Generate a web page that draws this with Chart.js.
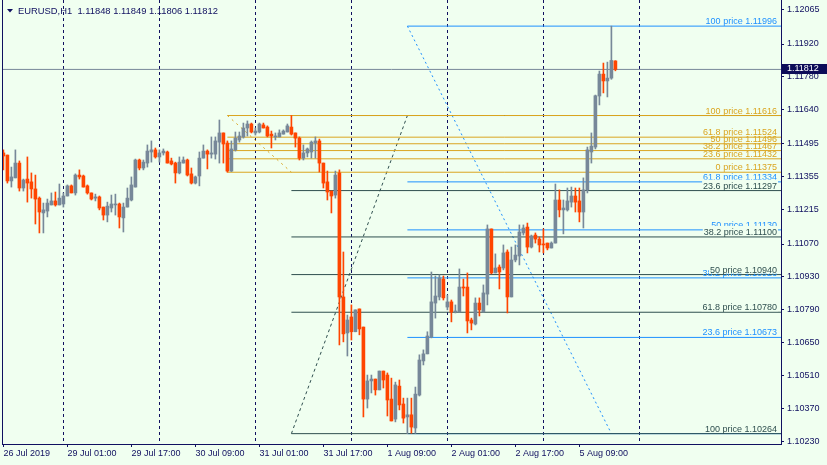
<!DOCTYPE html>
<html><head><meta charset="utf-8">
<script src="https://cdn.jsdelivr.net/npm/chart.js@4"></script>
<style>html,body{margin:0;padding:0;background:#F0FFF0;}canvas{display:block}</style>
</head><body>
<canvas id="c" width="827" height="465"></canvas>
<script>
// ---- data (EURUSD H1, bar 0 = 26 Jul 2019 09:00) ----
const chartTitle = 'EURUSD,H1  1.11848 1.11849 1.11806 1.11812';
const open = [1.11457,1.11448,1.11338,1.11351,1.11414,1.11308,1.11346,1.11334,1.11304,1.11265,1.11202,1.11210,1.11236,1.11253,1.11236,1.11240,1.11274,1.11317,1.11287,1.11363,1.11359,1.11317,1.11287,1.11265,1.11270,1.11227,1.11193,1.11223,1.11236,1.11240,1.11181,1.11227,1.11257,1.11312,1.11427,1.11393,1.11414,1.11461,1.11470,1.11440,1.11457,1.11461,1.11423,1.11414,1.11372,1.11414,1.11427,1.11368,1.11329,1.11359,1.11435,1.11465,1.11452,1.11452,1.11503,1.11542,1.11499,1.11380,1.11470,1.11512,1.11525,1.11563,1.11580,1.11542,1.11546,1.11576,1.11567,1.11537,1.11525,1.11525,1.11537,1.11546,1.11567,1.11542,1.11520,1.11435,1.11457,1.11461,1.11499,1.11508,1.11414,1.11334,1.11295,1.11278,1.11372,1.10845,1.10692,1.10760,1.10697,1.10794,1.10717,1.10411,1.10488,1.10496,1.10450,1.10530,1.10513,1.10411,1.10326,1.10466,1.10390,1.10335,1.10344,1.10288,1.10428,1.10573,1.10603,1.10675,1.10819,1.10845,1.10921,1.10802,1.10824,1.10781,1.10781,1.10887,1.10887,1.10747,1.10730,1.10819,1.10781,1.10857,1.11134,1.10947,1.10972,1.10968,1.11036,1.10845,1.11002,1.11019,1.11117,1.11142,1.11057,1.11108,1.11091,1.11070,1.11074,1.11053,1.11074,1.11257,1.11215,1.11215,1.11248,1.11274,1.11253,1.11206,1.11300,1.11461,1.11482,1.11699,1.11792,1.11763,1.11775,1.11848];
const high = [1.11470,1.11448,1.11397,1.11470,1.11423,1.11346,1.11440,1.11372,1.11363,1.11270,1.11244,1.11261,1.11287,1.11291,1.11325,1.11287,1.11321,1.11321,1.11368,1.11385,1.11363,1.11321,1.11287,1.11282,1.11274,1.11227,1.11248,1.11278,1.11282,1.11244,1.11244,1.11308,1.11355,1.11431,1.11431,1.11427,1.11491,1.11508,1.11478,1.11470,1.11474,1.11465,1.11435,1.11418,1.11440,1.11440,1.11431,1.11393,1.11359,1.11461,1.11491,1.11470,1.11525,1.11525,1.11597,1.11542,1.11508,1.11508,1.11546,1.11546,1.11584,1.11593,1.11584,1.11563,1.11584,1.11584,1.11572,1.11550,1.11542,1.11555,1.11555,1.11580,1.11616,1.11542,1.11525,1.11491,1.11478,1.11508,1.11525,1.11516,1.11414,1.11380,1.11295,1.11380,1.11385,1.11036,1.10768,1.10811,1.10790,1.10794,1.10717,1.10513,1.10513,1.10496,1.10530,1.10530,1.10522,1.10500,1.10483,1.10492,1.10415,1.10415,1.10415,1.10462,1.10599,1.10620,1.10697,1.10951,1.10934,1.10939,1.10934,1.10853,1.10832,1.10811,1.10964,1.10921,1.10947,1.10755,1.10841,1.10841,1.10896,1.11151,1.11134,1.11028,1.10981,1.11066,1.11045,1.11057,1.11066,1.11151,1.11151,1.11159,1.11108,1.11117,1.11100,1.11134,1.11074,1.11079,1.11325,1.11300,1.11257,1.11308,1.11312,1.11308,1.11308,1.11351,1.11482,1.11542,1.11703,1.11805,1.11839,1.11843,1.11996,1.11849];
const low = [1.11385,1.11329,1.11312,1.11351,1.11295,1.11295,1.11248,1.11265,1.11155,1.11117,1.11117,1.11185,1.11236,1.11231,1.11236,1.11227,1.11274,1.11287,1.11278,1.11346,1.11312,1.11282,1.11257,1.11253,1.11215,1.11172,1.11164,1.11206,1.11193,1.11138,1.11121,1.11227,1.11253,1.11312,1.11385,1.11385,1.11397,1.11418,1.11435,1.11418,1.11448,1.11414,1.11406,1.11329,1.11368,1.11414,1.11359,1.11325,1.11325,1.11317,1.11435,1.11389,1.11435,1.11431,1.11414,1.11414,1.11375,1.11378,1.11465,1.11503,1.11520,1.11529,1.11542,1.11533,1.11542,1.11563,1.11525,1.11478,1.11512,1.11525,1.11537,1.11546,1.11533,1.11482,1.11427,1.11427,1.11440,1.11435,1.11435,1.11376,1.11308,1.11257,1.11202,1.11265,1.10641,1.10654,1.10594,1.10662,1.10697,1.10684,1.10335,1.10373,1.10437,1.10428,1.10450,1.10458,1.10339,1.10318,1.10314,1.10365,1.10309,1.10264,1.10266,1.10265,1.10424,1.10556,1.10603,1.10671,1.10755,1.10832,1.10832,1.10790,1.10739,1.10777,1.10781,1.10849,1.10692,1.10705,1.10726,1.10764,1.10781,1.10811,1.10943,1.10947,1.10879,1.10960,1.10777,1.10845,1.10994,1.10981,1.11108,1.11032,1.11053,1.11074,1.11036,1.11032,1.11045,1.11053,1.11074,1.11185,1.11113,1.11210,1.11227,1.11206,1.11164,1.11138,1.11287,1.11414,1.11474,1.11661,1.11712,1.11695,1.11770,1.11806];
const close = [1.11444,1.11338,1.11355,1.11414,1.11308,1.11342,1.11329,1.11304,1.11261,1.11206,1.11215,1.11244,1.11253,1.11236,1.11265,1.11274,1.11317,1.11287,1.11363,1.11355,1.11312,1.11287,1.11261,1.11270,1.11223,1.11193,1.11231,1.11240,1.11240,1.11185,1.11227,1.11265,1.11321,1.11427,1.11393,1.11418,1.11465,1.11470,1.11440,1.11457,1.11465,1.11414,1.11410,1.11372,1.11418,1.11427,1.11363,1.11329,1.11355,1.11435,1.11465,1.11452,1.11457,1.11508,1.11542,1.11495,1.11380,1.11474,1.11520,1.11529,1.11563,1.11580,1.11546,1.11550,1.11580,1.11563,1.11529,1.11529,1.11529,1.11542,1.11550,1.11572,1.11537,1.11520,1.11435,1.11457,1.11474,1.11503,1.11508,1.11414,1.11329,1.11291,1.11274,1.11363,1.10845,1.10688,1.10747,1.10697,1.10790,1.10709,1.10411,1.10488,1.10496,1.10450,1.10530,1.10492,1.10407,1.10318,1.10471,1.10386,1.10330,1.10344,1.10292,1.10432,1.10577,1.10603,1.10679,1.10824,1.10849,1.10926,1.10841,1.10824,1.10781,1.10785,1.10887,1.10883,1.10743,1.10734,1.10819,1.10790,1.10862,1.11134,1.10947,1.10968,1.10951,1.11032,1.10845,1.11002,1.11023,1.11121,1.11138,1.11057,1.11104,1.11091,1.11066,1.11066,1.11053,1.11074,1.11257,1.11215,1.11223,1.11253,1.11274,1.11248,1.11206,1.11300,1.11470,1.11486,1.11700,1.11792,1.11763,1.11775,1.11850,1.11812];

const xTickIndex = [0,16,32,48,64,80,96,112,128,144];
const xTickLabels = ['26 Jul 2019','29 Jul 01:00','29 Jul 17:00','30 Jul 09:00','31 Jul 01:00','31 Jul 17:00','1 Aug 09:00','2 Aug 01:00','2 Aug 17:00','5 Aug 09:00'];
const dayGridIndex = [15,39,63,87,111,135,159];
const yTicks = [1.12065,1.11920,1.11780,1.11640,1.11495,1.11355,1.11215,1.11070,1.10930,1.10790,1.10650,1.10510,1.10370,1.10230];
const currentPrice = 1.11812;

const fibLevels = [100, 61.8, 50, 38.2, 23.6, 0];
// gold fib: from bar 56
const fibGoldPrices = [1.11616,1.11524,1.11496,1.11467,1.11432,1.11375];
const fibGoldDiag = [[56,1.11616],[72,1.11375]];
// dark fib: from bar 72
const fibDarkPrices = [1.10264,1.10780,1.10940,1.11100,1.11297,1.11616];
const fibDarkDiag = [[72,1.10264],[101,1.11616]];
// blue fib: from bar 101
const fibBluePrices = [1.11996,1.11334,1.11130,1.10926,1.10673,1.10264];
const fibBlueDiag = [[101,1.11996],[152,1.10264]];

// ---- styling ----
const X_MIN = -0.35, X_MAX = 194.4, Y_MIN = 1.10220, Y_MAX = 1.12107;
const BULL = '#778899', BEAR = '#FF4500', INK = '#101060', BG = '#F0FFF0';
const FONT_FAMILY = "'Liberation Sans', Arial, sans-serif";
const FONT = {family: FONT_FAMILY, size: 9};

const barColors = close.map((c, i) => c >= open[i] ? BULL : BEAR);
const bodyData = open.map((o, i) => ({x: i, y: [o, close[i]]}));
const wickData = open.map((o, i) => ({x: i, y: [low[i], high[i]]}));

const fibSets = [
  {color: '#1E90FF', prices: fibBluePrices, diag: fibBlueDiag, dash: [2, 3], bg: false, order: 7},
  {color: '#2F4F4F', prices: fibDarkPrices, diag: fibDarkDiag, dash: [3, 3], bg: true, order: 6},
  {color: '#DAA520', prices: fibGoldPrices, diag: fibGoldDiag, dash: [2, 4], bg: false, order: 5}
];

const datasets = [
  {type: 'bar', data: bodyData, backgroundColor: barColors, barThickness: 3, grouped: false, minBarLength: 1, borderWidth: 0, order: 0, xAxisID: 'x', yAxisID: 'y'},
  {type: 'bar', data: wickData, backgroundColor: barColors, barThickness: 1, grouped: false, borderWidth: 0, order: 1, xAxisID: 'x', yAxisID: 'y'},
  {type: 'line', data: [{x: X_MIN, y: currentPrice}, {x: X_MAX, y: currentPrice}], borderColor: '#778899', borderWidth: 1, pointRadius: 0, order: 2, xAxisID: 'x', yAxisID: 'y'}
];
fibSets.forEach(s => {
  const startBar = s.diag[0][0];
  s.prices.forEach(p => {
    datasets.push({type: 'line', data: [{x: startBar, y: p}, {x: X_MAX, y: p}], borderColor: s.color, borderWidth: 1, pointRadius: 0, order: s.order, xAxisID: 'x', yAxisID: 'y'});
  });
  datasets.push({type: 'line', data: s.diag.map(d => ({x: d[0], y: d[1]})), borderColor: s.color, borderWidth: 1, borderDash: s.dash, pointRadius: 0, order: s.order, xAxisID: 'x', yAxisID: 'y'});
});

const decorPlugin = {
  id: 'decor',
  beforeDraw(chart) {
    const c = chart.ctx;
    c.save(); c.fillStyle = BG; c.fillRect(0, 0, chart.width, chart.height); c.restore();
  },
  afterDatasetsDraw(chart) {
    const c = chart.ctx, ys = chart.scales.y, a = chart.chartArea;
    c.save();
    c.font = '9px ' + FONT_FAMILY;
    c.textAlign = 'right';
    c.textBaseline = 'alphabetic';
    const rx = a.right - 4;
    fibSets.forEach((s, si) => {
      s.prices.forEach((p, i) => {
        // a label sitting exactly under a later set's label at the same price is hidden
        const covered = fibSets.slice(si + 1).some(t => t.prices.includes(p));
        if (covered) return;
        const txt = fibLevels[i] + ' price ' + p.toFixed(5);
        const y = ys.getPixelForValue(p);
        if (s.bg) {
          const w = c.measureText(txt).width;
          c.fillStyle = BG;
          c.fillRect(rx - w - 1, y - 11, w + 2, 10);
        }
        c.fillStyle = s.color;
        c.fillText(txt, rx, y - 2);
      });
    });
    c.restore();
  },
  afterDraw(chart) {
    const c = chart.ctx, a = chart.chartArea, ys = chart.scales.y;
    c.save();
    c.strokeStyle = INK; c.lineWidth = 1;
    c.beginPath(); c.moveTo(a.left + 0.5, a.top); c.lineTo(a.left + 0.5, a.bottom); c.stroke();
    c.fillStyle = INK;
    c.beginPath(); c.moveTo(7, 9); c.lineTo(13, 9); c.lineTo(10, 12.5); c.closePath(); c.fill();
    c.font = '9.4px ' + FONT_FAMILY;
    c.textAlign = 'left'; c.textBaseline = 'alphabetic';
    c.fillText(chartTitle, 18, 14);
    const py = ys.getPixelForValue(currentPrice);
    c.fillStyle = '#0c0c58';
    c.fillRect(a.right + 1, Math.round(py) - 5, chart.width - a.right - 1, 10);
    c.fillStyle = '#ffffff';
    c.font = '9px ' + FONT_FAMILY;
    c.textBaseline = 'middle';
    c.fillText(currentPrice.toFixed(5), a.right + 6, Math.round(py));
    c.restore();
  }
};

new Chart(document.getElementById('c'), {
  type: 'bar',
  data: {datasets},
  options: {
    responsive: false,
    animation: false,
    events: [],
    devicePixelRatio: 1,
    layout: {padding: {left: 2, top: 0, right: 0, bottom: 0}},
    plugins: {legend: {display: false}, tooltip: {enabled: false}, title: {display: false}},
    scales: {
      x: {
        type: 'linear', position: 'bottom', min: X_MIN, max: X_MAX, offset: false, bounds: 'data',
        afterBuildTicks: s => { s.ticks = xTickIndex.map(v => ({value: v})); },
        afterFit: s => { s.height = 21; s.paddingLeft = 0; s.paddingRight = 0; },
        ticks: {
          autoSkip: false, maxRotation: 0, minRotation: 0, align: 'start', padding: 1,
          color: INK, font: FONT,
          callback: v => { const k = xTickIndex.indexOf(v); return k >= 0 ? xTickLabels[k] : ''; }
        },
        grid: {drawOnChartArea: false, drawTicks: true, tickLength: 3, color: INK, tickColor: INK, offset: false},
        border: {display: true, color: INK, width: 1}
      },
      xg: {
        type: 'linear', position: 'bottom', min: X_MIN, max: X_MAX, offset: false, bounds: 'data',
        afterBuildTicks: s => { s.ticks = dayGridIndex.map(v => ({value: v})); },
        afterFit: s => { s.height = 0; s.paddingLeft = 0; s.paddingRight = 0; },
        ticks: {display: false},
        grid: {drawOnChartArea: true, drawTicks: false, color: INK, lineWidth: 1, offset: false},
        border: {display: false, dash: [3, 3]}
      },
      y: {
        type: 'linear', position: 'right', min: Y_MIN, max: Y_MAX, bounds: 'data',
        afterBuildTicks: s => { s.ticks = yTicks.map(v => ({value: v})); },
        afterFit: s => { s.width = 46; s.paddingTop = 0; s.paddingBottom = 0; },
        ticks: {autoSkip: false, color: INK, font: FONT, padding: 3, callback: v => Number(v).toFixed(5)},
        grid: {drawOnChartArea: false, drawTicks: true, tickLength: 3, color: INK, tickColor: INK},
        border: {display: true, color: INK, width: 1}
      }
    }
  },
  plugins: [decorPlugin]
});
</script>
</body></html>
